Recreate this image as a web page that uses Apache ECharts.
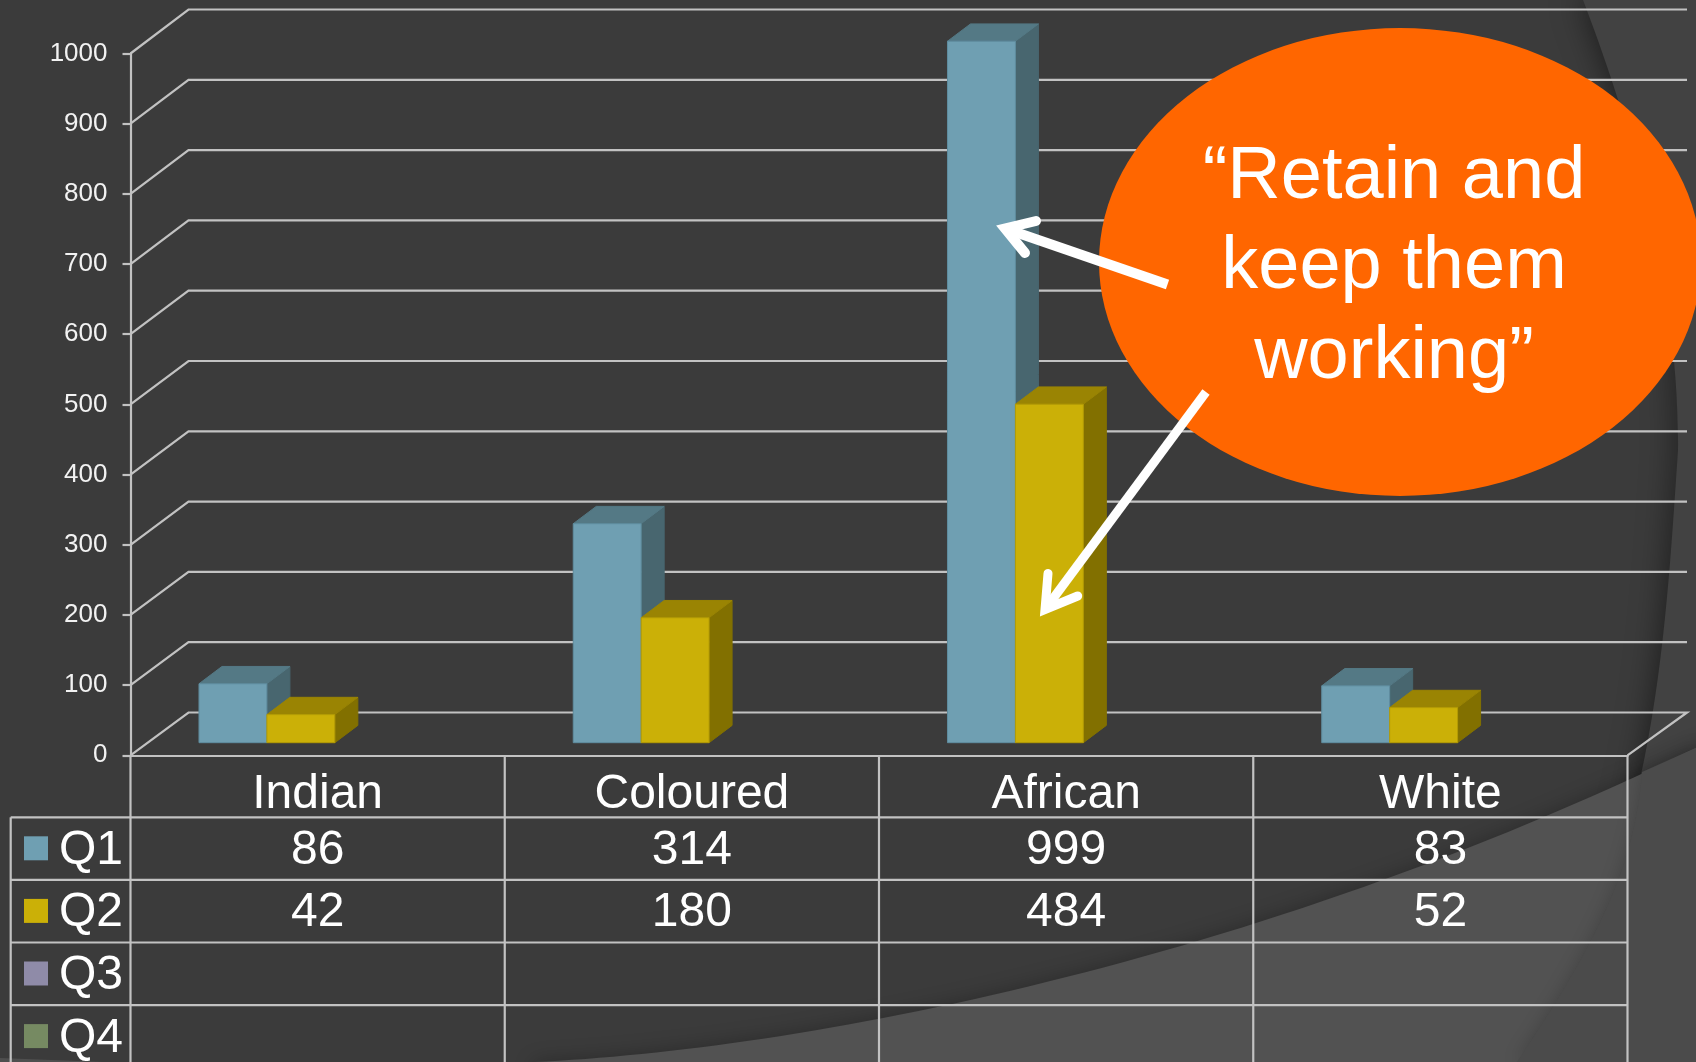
<!DOCTYPE html>
<html>
<head>
<meta charset="utf-8">
<style>html,body{margin:0;padding:0;background:#3b3b3b}#c{width:1696px;height:1062px}</style>
<script src="https://cdn.jsdelivr.net/npm/echarts@6/dist/echarts.min.js"></script>
</head>
<body>
<div id="c"></div>
<script>
const categories = ['Indian', 'Coloured', 'African', 'White'];
const q1 = [86, 314, 999, 83];
const q2 = [42, 180, 484, 52];
const q3 = [];
const q4 = [];
const seriesNames = ['Q1', 'Q2', 'Q3', 'Q4'];
const axisTicks = [0, 100, 200, 300, 400, 500, 600, 700, 800, 900, 1000];
const calloutLines = ['\u201CRetain and', 'keep them', 'working\u201D'];

const FONT = '"Liberation Sans", Arial, sans-serif';
const LINE = '#c2c2c2';
const palette = [
  { front: '#6f9fb2', top: '#547985', side: '#48666f', edge: '#5f8d9f' },
  { front: '#cbb007', top: '#9a8403', side: '#827000', edge: '#b39b05' },
  { front: '#8f8ba8' },
  { front: '#768a62' }
];
const allRows = [q1, q2, q3, q4];

const DEPTH_X = 58, DEPTH_Y = 44;
const TABLE_LEFT = 10.7, ROW_START = 817.3, ROW_H = 62.6, TABLE_BOTTOM = 1062;

function line(x1, y1, x2, y2) {
  return { type: 'line', shape: { x1, y1, x2, y2 }, style: { stroke: LINE, lineWidth: 2.2 } };
}

function renderWall(params, api) {
  const cs = params.coordSys;
  const v = api.value(1);
  const y = api.coord([0, v])[1];
  const backY = y - DEPTH_Y + 1.2 * (1 - v / 1000);
  const pts = [[cs.x, y], [cs.x + DEPTH_X, backY], [cs.x + cs.width + 59.5, backY]];
  if (v === 0) pts.push([cs.x + cs.width, y]);
  return { type: 'polyline', shape: { points: pts }, style: { fill: 'none', stroke: LINE, lineWidth: 2.2 } };
}

function barRenderer(idx) {
  const c = palette[idx];
  return function (params, api) {
    const band = api.size([1, 0])[0];
    const center = api.coord([api.value(0), 0])[0];
    const v = api.value(1);
    const w = band * 0.1815, dx = 23, dy = 17.3, lift = 12.6;
    const left = center - band * 0.317 + idx * w;
    const right = left + w;
    const base = api.coord([0, 0])[1] - lift;
    const top = api.coord([0, v])[1] - (11.2 + 1.8 * Math.pow(v / 1000, 3));
    const poly = (points, fill, stroke) => ({ type: 'polygon', shape: { points }, style: { fill, stroke, lineWidth: 1 } });
    return {
      type: 'group',
      children: [
        poly([[right, top], [right + dx, top - dy], [right + dx, base - dy], [right, base]], c.side, c.side),
        poly([[left, top], [left + dx, top - dy], [right + dx, top - dy], [right, top]], c.top, c.top),
        poly([[left, top], [right, top], [right, base], [left, base]], c.front, c.edge)
      ]
    };
  };
}

function renderTableFrame(params, api) {
  const cs = params.coordSys;
  const y0 = cs.y + cs.height;
  const children = [];
  for (let k = 0; k <= categories.length; k++) {
    const x = cs.x + k * cs.width / categories.length;
    children.push(line(x, y0, x, TABLE_BOTTOM));
  }
  children.push(line(TABLE_LEFT, ROW_START, TABLE_LEFT, TABLE_BOTTOM));
  seriesNames.forEach((name, r) => {
    const top = ROW_START + r * ROW_H;
    children.push(line(TABLE_LEFT, top, cs.x + cs.width, top));
    children.push({ type: 'rect', shape: { x: 24, y: top + 19, width: 24, height: 24 }, style: { fill: palette[r].front } });
    children.push({
      type: 'text',
      style: { text: name, x: 59, y: top + ROW_H / 2 + 2, fill: '#ffffff', font: '48px ' + FONT, textAlign: 'left', textVerticalAlign: 'middle' }
    });
  });
  return { type: 'group', children };
}

function renderCell(params, api) {
  const x = api.coord([api.value(0), 0])[0];
  const r = api.value(1);
  return {
    type: 'text',
    style: {
      text: String(api.value(2)), x, y: ROW_START + r * ROW_H + ROW_H / 2 + 2,
      fill: '#ffffff', font: '48px ' + FONT, textAlign: 'center', textVerticalAlign: 'middle'
    }
  };
}

const cellData = [];
allRows.forEach((row, r) => row.forEach((v, i) => cellData.push([i, r, v])));

const barSeries = (name, values, idx) => ({
  name, type: 'custom', silent: true, z: 5 + idx,
  renderItem: barRenderer(idx),
  encode: { x: 0, y: 1 },
  data: values.map((v, i) => [i, v])
});

function arrow(shaftFrom, vertex, barbA, barbB, width) {
  return [
    { type: 'line', shape: { x1: shaftFrom[0], y1: shaftFrom[1], x2: vertex[0], y2: vertex[1] }, style: { stroke: '#ffffff', lineWidth: width, lineCap: 'butt' } },
    { type: 'polyline', shape: { points: [barbA, vertex, barbB] }, style: { fill: 'none', stroke: '#ffffff', lineWidth: width, lineCap: 'round', lineJoin: 'miter', miterLimit: 10 } }
  ];
}

const bgR = 'M1583 0 C1625 110 1680 280 1678 450 C1665 640 1655 880 1517 1062 L1700 1062 L1700 -5 L1583 -5 Z';
const bgS = 'M534 1062 C800 1050 1250 965 1696 748 L1720 740 L1720 1080 L534 1080 Z';
const bgRS = 'M1642 772 C1636 860 1600 940 1517 1062 L1700 1062 L1700 746 Z';
const bgCorner = 'M0 1058 L104 1062 L0 1062 Z';
const calloutPath = 'M1099 262 A301 234 0 1 1 1701 262 A301 234 0 1 1 1099 262 Z';

function renderBackdrop() {
  return {
    type: 'group',
    children: [
      { type: 'path', shape: { pathData: bgR }, style: { fill: '#424242', shadowColor: 'rgba(0,0,0,0.55)', shadowBlur: 32 } },
      { type: 'path', shape: { pathData: bgS }, style: { fill: '#525252', shadowColor: 'rgba(0,0,0,0.28)', shadowBlur: 20 } },
      { type: 'path', shape: { pathData: bgRS }, style: { fill: '#4b4b4b', shadowColor: 'rgba(0,0,0,0.18)', shadowBlur: 18 } },
      { type: 'path', shape: { pathData: bgCorner }, style: { fill: '#4f4f4f' } }
    ]
  };
}

function renderCallout() {
  return {
    type: 'group',
    children: [{ type: 'path', shape: { pathData: calloutPath }, style: { fill: '#ff6600' } }]
      .concat(arrow([1167.5, 284.5], [1005, 228.5], [1036, 221], [1025, 253], 10))
      .concat(arrow([1206, 392], [1045, 609.5], [1048, 573.5], [1077.7, 596], 9))
      .concat(calloutLines.map((t, i) => ({
        type: 'text',
        style: { text: t, x: 1394, y: 178 + i * 90, fill: '#ffffff', font: '74px ' + FONT, textAlign: 'center', textVerticalAlign: 'middle' }
      })))
  };
}

const chart = echarts.init(document.getElementById('c'));
chart.setOption({
  animation: false,
  backgroundColor: '#3b3b3b',
  grid: { left: 130.5, right: 68.5, top: 53.5, bottom: 306.7 },
  xAxis: {
    type: 'category',
    data: categories,
    axisLine: { lineStyle: { color: LINE, width: 2.2 } },
    axisTick: { show: false },
    splitLine: { show: false },
    axisLabel: { color: '#ffffff', fontSize: 48, fontFamily: FONT, margin: 15, interval: 0 }
  },
  yAxis: {
    type: 'value',
    min: 0, max: 1000, interval: 100,
    axisLine: { show: true, lineStyle: { color: LINE, width: 2.2 } },
    axisTick: { show: true, length: 8, lineStyle: { color: LINE, width: 2.2 } },
    splitLine: { show: false },
    axisLabel: { color: '#f2f2f2', fontSize: 26, fontFamily: FONT, margin: 23, padding: [7, 0, 0, 0], formatter: v => String(v) }
  },
  series: [
    { name: 'backdrop', type: 'custom', silent: true, z: -5, renderItem: renderBackdrop, encode: { x: 0, y: 1 }, data: [[0, 0]] },
    { name: 'wall', type: 'custom', silent: true, z: 2, renderItem: renderWall, encode: { x: 0, y: 1 }, data: axisTicks.map(v => [0, v]) },
    barSeries('Q1', q1, 0),
    barSeries('Q2', q2, 1),
    { name: 'frame', type: 'custom', silent: true, z: 3, renderItem: renderTableFrame, encode: { x: 0, y: 1 }, data: [[0, 0]] },
    { name: 'cells', type: 'custom', silent: true, z: 4, renderItem: renderCell, encode: { x: 0 }, data: cellData, dimensions: ['cat', 'row', 'value'] },
    { name: 'callout', type: 'custom', silent: true, z: 100, renderItem: renderCallout, encode: { x: 0, y: 1 }, data: [[0, 0]] }
  ]
});
</script>
</body>
</html>
